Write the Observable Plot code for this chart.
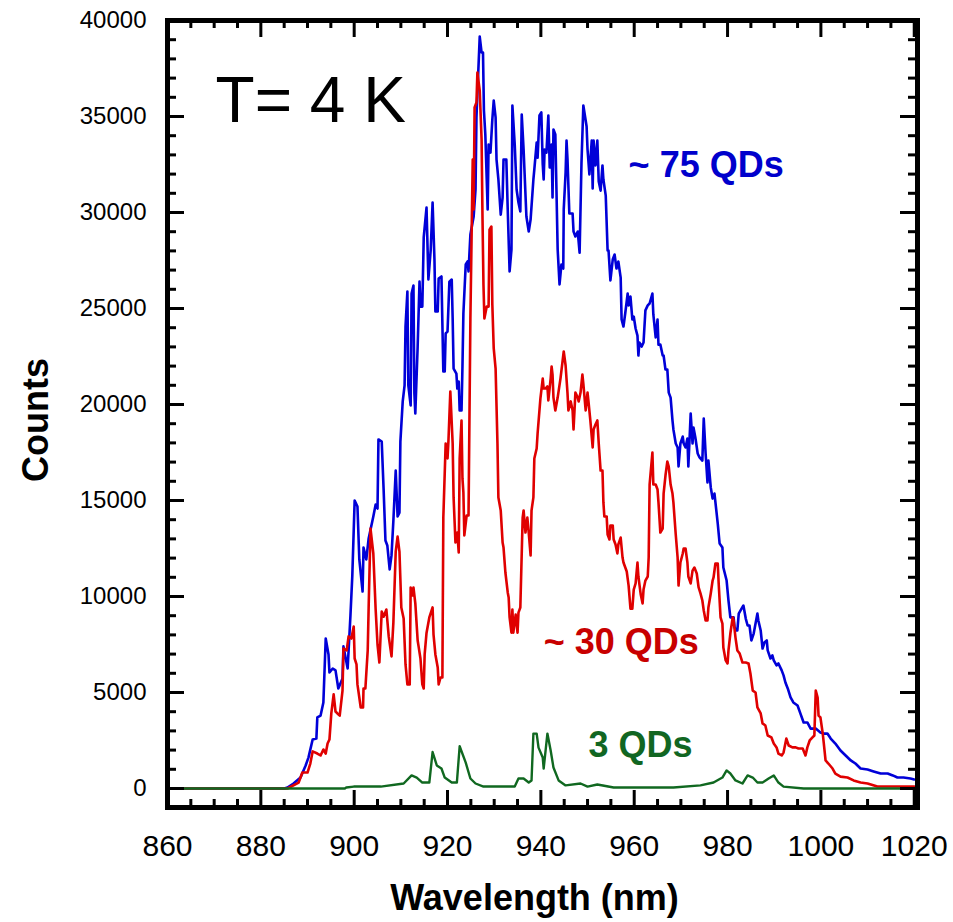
<!DOCTYPE html>
<html><head><meta charset="utf-8">
<script src="https://cdn.jsdelivr.net/npm/d3@7"></script>
<script src="https://cdn.jsdelivr.net/npm/@observablehq/plot@0.6"></script>
<style>html,body{margin:0;padding:0;background:#fff;} svg{display:block;}</style>
</head><body><div id="chart"></div>
<script>
// Spectra: [wavelength (nm), counts]
const blue75 = [[860,0],[885,0],[885.7,50],[887.0,260],[888.5,570],[889.6,1200],[890.2,1610],[891.1,2550],[891.9,2600],[892.1,3700],[892.8,3800],[893.4,4480],[893.9,7810],[894.5,6980],[894.7,6040],[895.4,6250],[896.0,6150],[896.6,5210],[897.5,5730],[897.7,7400],[898.6,6250],[899.2,9010],[899.6,11090],[900.1,15000],[900.7,14690],[901.1,11930],[901.8,10260],[902.0,12550],[902.6,11930],[903.1,13020],[904.1,14170],[904.6,14790],[905.0,14580],[905.2,18180],[905.9,18070],[906.3,15620],[906.7,12920],[907.1,12660],[907.6,11410],[908.0,12140],[908.4,13960],[908.9,16560],[909.3,14170],[909.7,14370],[909.9,18070],[910.4,20160],[910.8,21000],[911.0,24060],[911.4,25880],[911.6,21000],[912.1,19950],[912.3,25780],[912.7,26200],[912.9,20570],[913.1,19530],[913.6,23020],[914.0,26400],[914.2,25100],[914.6,25100],[914.9,28700],[915.5,30260],[915.9,26510],[916.4,28070],[916.8,30520],[917.2,27550],[917.4,24840],[917.9,24840],[918.1,26560],[918.7,26670],[919.1,21720],[919.4,21720],[919.6,23700],[920.0,23800],[920.4,26400],[920.9,26510],[921.1,24480],[921.3,21870],[921.9,21610],[922.1,20830],[922.4,21200],[922.6,19690],[923.0,19690],[923.2,21980],[923.4,24740],[923.9,27290],[924.3,27450],[924.5,26930],[924.9,28850],[925.6,29790],[926.0,31200],[926.2,34950],[926.6,37390],[926.9,39160],[927.3,38330],[927.6,38330],[927.8,35310],[928.1,34060],[928.6,30160],[928.8,33540],[929.2,33120],[929.6,34840],[929.9,35830],[930.3,34950],[930.5,32760],[930.9,31720],[931.4,29890],[931.8,30780],[932.0,32760],[932.6,32760],[932.9,30160],[933.3,26930],[933.7,28070],[933.9,35570],[934.4,33540],[934.8,31200],[935.2,30520],[935.6,30050],[935.9,35100],[936.3,33280],[936.9,29790],[937.4,29010],[937.8,29630],[938.4,31720],[938.6,32240],[939.1,33640],[939.3,32860],[939.7,35050],[940.1,35210],[940.4,32500],[940.6,31720],[940.8,33280],[941.2,33120],[941.6,35050],[941.9,32340],[942.3,33540],[942.5,30780],[942.7,34320],[943.1,34060],[943.6,28070],[944.0,26250],[944.4,27290],[944.8,27080],[944.9,30160],[945.3,32080],[945.5,33750],[945.7,32810],[946.1,29950],[946.8,29950],[947.0,29010],[947.4,28750],[947.9,29010],[948.3,27910],[948.7,32550],[949.1,35570],[949.8,34480],[950.0,33280],[950.4,31980],[950.9,33750],[951.1,31250],[951.3,33750],[951.7,32450],[952.1,33750],[952.4,31610],[952.8,31140],[953.2,32450],[953.4,31720],[953.9,30880],[954.3,28020],[954.5,28020],[954.9,26460],[955.4,27550],[955.8,27810],[956.2,27080],[956.6,27450],[957.1,26610],[957.3,24430],[957.7,24060],[958.1,24790],[958.6,25780],[958.8,25160],[959.2,25620],[959.6,24430],[959.9,24580],[960.3,23960],[960.7,23590],[960.9,22550],[961.1,23230],[961.6,23020],[962.0,23230],[962.4,24900],[962.9,25160],[963.3,25260],[963.9,25780],[964.1,24690],[964.6,23490],[965.0,24430],[965.2,23120],[965.6,23120],[966.1,22550],[966.3,22550],[966.7,21820],[967.1,21820],[967.4,20620],[967.8,20360],[968.2,19170],[968.4,18700],[968.9,17970],[969.3,17760],[969.5,16770],[969.9,17970],[970.4,18330],[970.6,17970],[971.0,17760],[971.4,18230],[971.6,16770],[972.1,19530],[972.5,17970],[972.7,18800],[973.1,18280],[973.6,17450],[974.0,17240],[974.6,17080],[974.9,19270],[975.3,17450],[975.7,15940],[975.9,17080],[976.4,15680],[976.8,15100],[977.2,15360],[977.9,13800],[978.3,12760],[978.9,12550],[979.1,11510],[979.8,10830],[980.2,9790],[980.6,8910],[981.3,8910],[981.5,8390],[981.9,8230],[982.1,8230],[982.4,9110],[983.0,9370],[983.4,9530],[983.9,8850],[984.3,8490],[984.7,8490],[985.1,7710],[985.6,8070],[986.0,8590],[986.4,9110],[986.6,8750],[987.1,8230],[987.5,7290],[987.9,7600],[988.4,7710],[988.6,7190],[989.2,6770],[989.6,6930],[989.9,6670],[990.5,6410],[990.9,6510],[991.6,6150],[992.0,5890],[992.4,5520],[992.9,5210],[993.5,4740],[994.1,4480],[995.0,4320],[995.6,3910],[996.3,3440],[997.1,3440],[997.8,3120],[998.9,3120],[999.9,2920],[1000.6,2860],[1001.4,2860],[1002.1,2600],[1003.1,2340],[1004.2,1980],[1005.3,1720],[1006.4,1460],[1007.4,1300],[1008.5,1040],[1010.0,990],[1011.3,890],[1012.8,780],[1014.3,780],[1015.4,680],[1016.4,570],[1017.7,570],[1019.2,520],[1020,470]];

const red30 = [[860,0],[885.7,0],[888.1,310],[888.9,830],[890.0,830],[890.6,1300],[891.1,1930],[892.1,1820],[892.8,1720],[893.4,2030],[893.9,1820],[894.3,2340],[894.7,2550],[895.1,3910],[895.6,4900],[896.0,4010],[896.4,3910],[896.9,3800],[897.5,5100],[897.7,7290],[898.4,7190],[898.8,7920],[899.4,7810],[899.9,8440],[900.1,6770],[900.5,6460],[900.7,5420],[901.4,4220],[901.9,4220],[902.0,5210],[902.4,5210],[902.9,7190],[903.1,9430],[903.5,13540],[904.1,12240],[904.6,9320],[905.0,7500],[905.4,6560],[905.9,9220],[906.3,8950],[906.9,9320],[907.4,7920],[908.0,6880],[908.4,8650],[908.9,12340],[909.3,13120],[909.7,12340],[910.1,9430],[910.6,8850],[911.0,6460],[911.4,5420],[911.9,5420],[912.1,10470],[912.5,10050],[912.7,10470],[913.1,9640],[913.6,7710],[913.8,7400],[914.2,6770],[914.6,5420],[914.9,5210],[915.1,6980],[915.5,8100],[916.1,8910],[916.8,9430],[917.0,8020],[917.4,6980],[917.9,6300],[918.1,5420],[918.5,5780],[918.9,5780],[919.1,14110],[919.6,17970],[920.0,17190],[920.2,18120],[920.6,20680],[921.1,17970],[921.3,15160],[921.7,12810],[922.1,13330],[922.4,12290],[922.6,17190],[923.0,19170],[923.2,16150],[923.4,15420],[923.6,13180],[924.1,14220],[924.5,14220],[924.9,24480],[925.4,32760],[925.6,30160],[925.8,35470],[926.2,35730],[926.4,37290],[926.9,36350],[927.3,33800],[927.5,29630],[927.7,26250],[927.9,24480],[928.4,25100],[928.8,25100],[929.0,29110],[929.4,29270],[929.6,25210],[929.9,22920],[930.3,21870],[930.7,17970],[930.9,15160],[931.4,14480],[931.8,12810],[932.0,12550],[932.4,11250],[932.9,10210],[933.1,9950],[933.3,8910],[933.7,8120],[933.9,9320],[934.1,8120],[934.6,9060],[935.0,8120],[935.2,9160],[935.6,9430],[936.1,14110],[936.3,14480],[936.7,13330],[937.1,14110],[937.4,13330],[937.8,12140],[938.0,14480],[938.4,15160],[938.6,17190],[939.1,17710],[939.3,18490],[939.9,20310],[940.4,21350],[940.6,20830],[941.0,20830],[941.4,20940],[941.6,20210],[942.1,21350],[942.3,21980],[942.5,21560],[942.7,20360],[943.1,19690],[943.6,20360],[944.2,21350],[944.9,22760],[945.3,22030],[945.7,20620],[945.9,19690],[946.4,20160],[946.8,19690],[947.0,18700],[947.4,20620],[947.9,20360],[948.1,20160],[948.5,20620],[948.9,21560],[949.1,21090],[949.6,19690],[950.0,20620],[950.2,20160],[950.6,19170],[951.1,17760],[951.3,18700],[951.7,18960],[952.1,19170],[952.4,17970],[952.8,16560],[953.2,16560],[953.4,14900],[953.6,14170],[954.1,14170],[954.3,13230],[954.7,12970],[954.9,13700],[955.4,13700],[955.6,12970],[956.0,12710],[956.4,12240],[956.6,12710],[957.1,13070],[957.5,12030],[957.7,11770],[958.4,11300],[958.8,10570],[959.2,9370],[959.6,9370],[959.9,10360],[960.3,10680],[960.7,11770],[960.9,11040],[961.4,10100],[961.8,9640],[962.0,10360],[962.4,10830],[962.9,11040],[963.1,12030],[963.3,15830],[963.9,17500],[964.1,15830],[964.6,15830],[965.0,15570],[965.2,14900],[965.6,13330],[966.1,13540],[966.3,15360],[966.7,16300],[967.1,17030],[967.4,16770],[967.8,15830],[968.2,15360],[968.4,14900],[968.9,13230],[969.3,12030],[969.5,10570],[969.9,11770],[970.4,12240],[970.6,12500],[971.0,12500],[971.4,11770],[971.6,11040],[972.1,10680],[972.5,11350],[972.9,11510],[973.4,11200],[973.8,10470],[974.2,10160],[974.6,9790],[974.9,9270],[975.3,8750],[975.7,8750],[975.9,9430],[976.4,10160],[976.8,10830],[977.0,10990],[977.4,11720],[977.9,11720],[978.1,10680],[978.5,8910],[978.9,8590],[979.1,7340],[979.6,6670],[980.0,6510],[980.2,7190],[980.6,8070],[981.1,8910],[981.3,8750],[981.7,7860],[982.1,7190],[982.6,7030],[983.2,6560],[983.9,6560],[984.5,6510],[984.9,5990],[985.4,5100],[986.0,5000],[986.4,4220],[987.1,3910],[987.5,3390],[988.1,3280],[988.6,2760],[989.4,2660],[989.9,2340],[990.5,2140],[990.9,1820],[991.6,1720],[992.0,1870],[992.6,2600],[993.1,2240],[993.9,2140],[994.6,2140],[995.2,2080],[996.1,2080],[996.7,1720],[997.1,2140],[997.6,2500],[998.2,2660],[998.6,2760],[998.9,5100],[999.3,4740],[999.5,3800],[999.9,3700],[1000.4,2860],[1000.6,2400],[1001.0,1460],[1001.6,1300],[1002.5,1040],[1003.1,780],[1004.2,620],[1005.7,570],[1007.0,420],[1008.5,310],[1010.0,260],[1012.1,100],[1020,100]];

const green3 = [[860,0],[898,0],[898.3,50],[899.9,100],[905.7,100],[910.6,260],[912.3,680],[913.4,570],[914.6,310],[916.1,310],[916.8,1900],[917.7,1200],[918.7,1040],[919.4,570],[920.9,310],[922.0,310],[922.6,2200],[923.9,1350],[924.9,520],[926.0,260],[927.7,100],[934.4,100],[935.2,520],[936.3,520],[937.4,310],[938.0,420],[938.4,2860],[939.1,2860],[939.5,2130],[940.4,1610],[940.6,1040],[941.4,2860],[942.1,1980],[942.7,1090],[943.8,420],[945.3,160],[948.5,260],[950.0,100],[952.1,210],[955.6,50],[961.4,50],[968.4,50],[974.2,160],[977.0,310],[978.9,570],[979.8,940],[980.6,780],[981.7,420],[983.2,260],[984.3,680],[985.4,570],[986.4,310],[987.5,310],[988.8,520],[989.9,680],[990.9,310],[992.0,100],[996.3,0],[1020,0]];

// Axis ticks
const xTickLabels = [860, 880, 900, 920, 940, 960, 980, 1000, 1020];
const yTickLabels = [0, 5000, 10000, 15000, 20000, 25000, 30000, 35000, 40000];
const xMinor = d3.range(865, 1020, 5).filter(v => v % 20 !== 0);
const yMinor = d3.range(1000, 40000, 1000).filter(v => v % 5000 !== 0);

// Annotations
const annotText = ["T= 4 K", "~ 75 QDs", "~ 30 QDs", "3 QDs"];
const annotX = [870.3, 958.8, 940.6, 950.2];
const annotY = [35780, 32450, 7600, 2240];
const annotColor = ["#000000", "#0000cc", "#c80000", "#116622"];

const W = 953, H = 922, mL = 167, mR = 36, mT = 20, mB = 115;
const fw = W - mL - mR, fh = H - mT - mB;
const font = "'Liberation Sans', Arial, Helvetica, sans-serif";
const annots = annotText.map((t, i) => ({t, x: annotX[i], y: annotY[i], c: annotColor[i]}));

const chart = Plot.plot({
  width: W, height: H,
  marginLeft: mL, marginRight: mR, marginTop: mT, marginBottom: mB,
  style: {fontFamily: font, background: "white", overflow: "visible", color: "black"},
  x: {domain: [860, 1020.7]},
  y: {domain: [-990, 40000]},
  marks: [
    Plot.line(blue75, {x: d => d[0], y: d => d[1], stroke: "#0000d8", strokeWidth: 2.6}),
    Plot.line(red30, {x: d => d[0], y: d => d[1], stroke: "#e00000", strokeWidth: 2.6}),
    Plot.line(green3, {x: d => d[0], y: d => d[1], stroke: "#106820", strokeWidth: 2.4}),
    Plot.tickY(yTickLabels, {y: d => d, insetRight: fw - 17, strokeWidth: 3, stroke: "black"}),
    Plot.tickY(yTickLabels, {y: d => d, insetLeft: fw - 17, strokeWidth: 3, stroke: "black"}),
    Plot.tickY(yMinor, {y: d => d, insetRight: fw - 9, strokeWidth: 3, stroke: "black"}),
    Plot.tickY(yMinor, {y: d => d, insetLeft: fw - 9, strokeWidth: 3, stroke: "black"}),
    Plot.tickX(xTickLabels, {x: d => d, insetTop: fh - 17, strokeWidth: 3, stroke: "black"}),
    Plot.tickX(xTickLabels, {x: d => d, insetBottom: fh - 17, strokeWidth: 3, stroke: "black"}),
    Plot.tickX(xMinor, {x: d => d, insetTop: fh - 8, strokeWidth: 3, stroke: "black"}),
    Plot.tickX(xMinor, {x: d => d, insetBottom: fh - 8, strokeWidth: 3, stroke: "black"}),
    Plot.frame({stroke: "black", strokeWidth: 5}),
    Plot.axisY({ticks: yTickLabels, anchor: "left", tickSize: 0, tickPadding: 21, fontSize: 24, tickFormat: d3.format("d"), label: null}),
    Plot.axisX({ticks: xTickLabels, anchor: "bottom", tickSize: 0, tickPadding: 27, fontSize: 30, tickFormat: d3.format("d"), label: null}),
    Plot.text(annots.slice(0, 1), {x: "x", y: "y", text: "t", fill: "c", fontSize: 64, textAnchor: "start", lineAnchor: "middle"}),
    Plot.text(annots.slice(1), {x: "x", y: "y", text: "t", fill: "c", fontSize: 36, fontWeight: "bold", textAnchor: "start", lineAnchor: "middle"}),
    Plot.text(["Counts"], {frameAnchor: "left", dx: -131, dy: 6, rotate: -90, fontSize: 36, fontWeight: "bold", fill: "black", textAnchor: "middle", lineAnchor: "middle"}),
    Plot.text(["Wavelength (nm)"], {frameAnchor: "bottom", dx: -8, dy: 91, fontSize: 36, fontWeight: "bold", fill: "black", textAnchor: "middle", lineAnchor: "middle"})
  ]
});
document.getElementById("chart").appendChild(chart);
</script>
</body></html>
